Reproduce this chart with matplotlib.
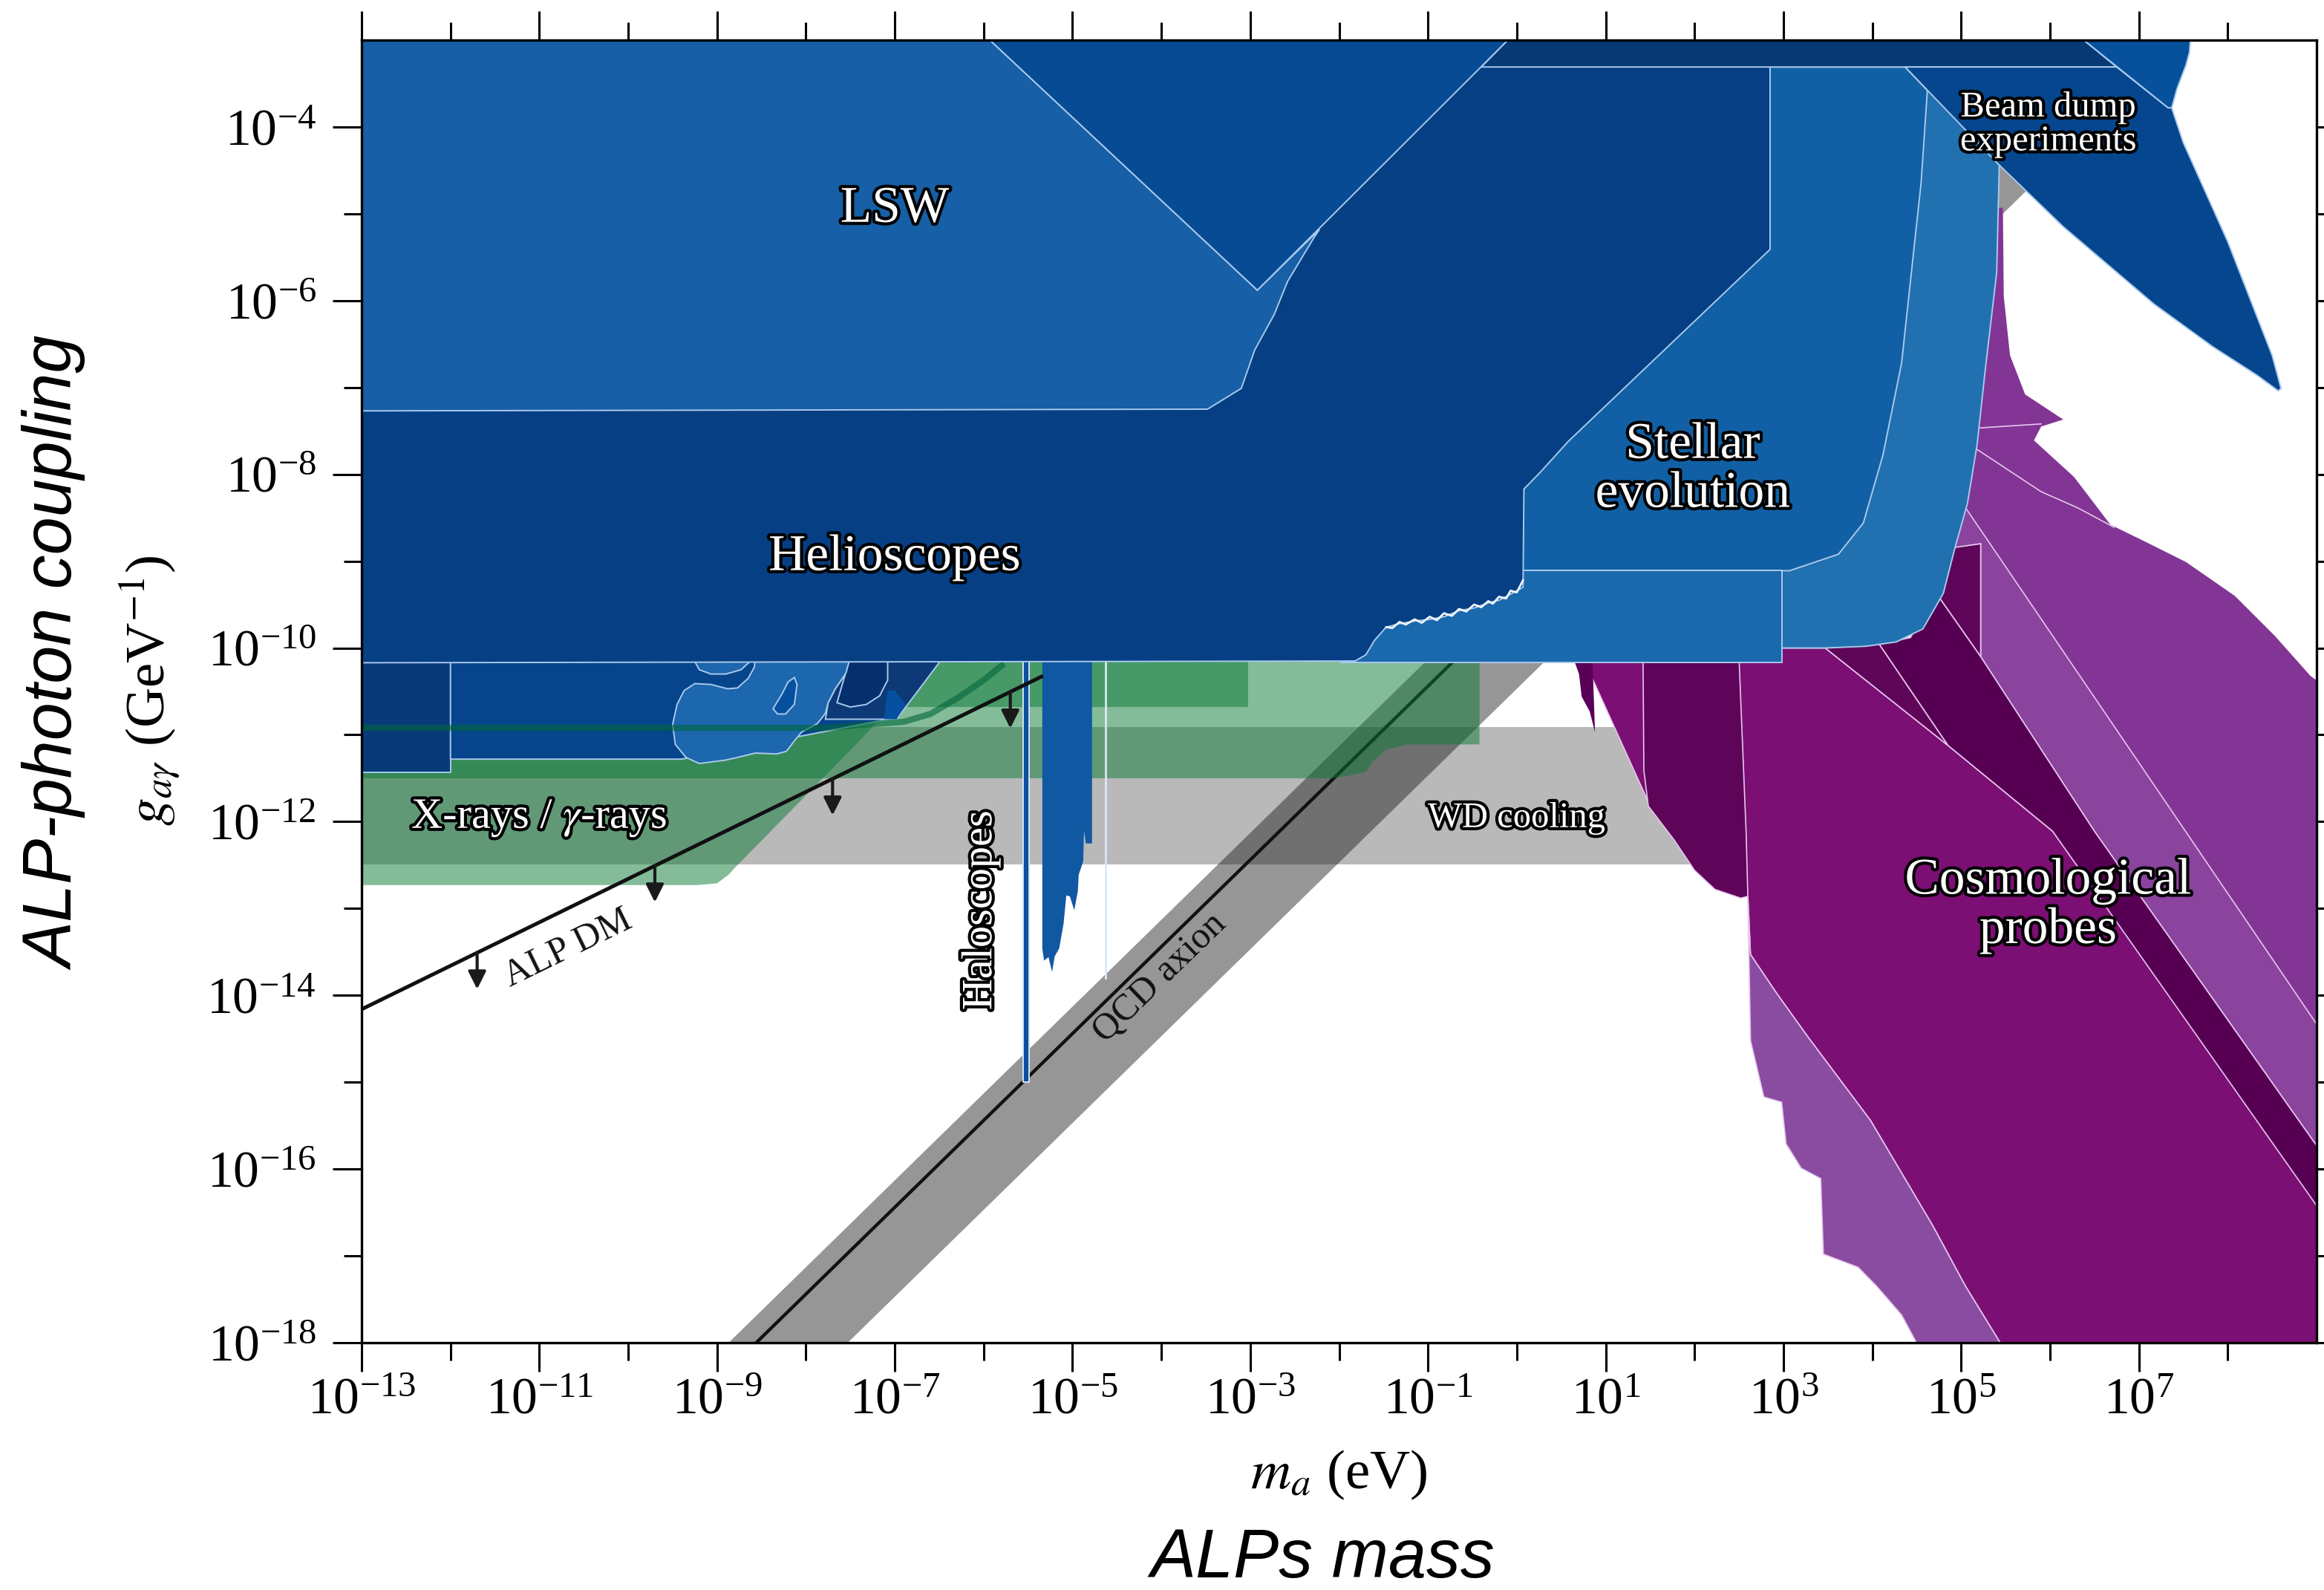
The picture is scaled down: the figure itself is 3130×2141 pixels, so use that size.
import numpy as np
import matplotlib
matplotlib.use("Agg")
import matplotlib.pyplot as plt
import matplotlib.patheffects as pe
from matplotlib.ticker import NullFormatter

plt.rcParams['font.family'] = 'serif'
plt.rcParams['font.serif'] = ['Liberation Serif', 'DejaVu Serif']
plt.rcParams['mathtext.fontset'] = 'stix'

# region outlines: log10(m_a / eV) and log10(g_ag / GeV^-1)

# QCD axion band + line
qcd_band_m = [-9.2, 7.5, 7.5, -7.6]
qcd_band_g = [-18.33, -1.63, -2.97, -18.07]
qcd_line_m = [-8.7, 7.0]
qcd_line_g = [-18.14, -2.44]

# ALP dark matter line
alpdm_m = [-13.0, -5.35]
alpdm_g = [-14.16, -10.33]
alpdm_arrow_m = [-11.7, -9.7, -7.7, -5.7]

# white dwarf cooling
wd_m = [-13.1, 2.0, 2.0, -13.1]
wd_g = [-10.91, -10.91, -12.49, -12.49]

# X-rays / gamma-rays (translucent green)
xray1_m = [-13.1, -13.1, -9.23, -9.0, -8.87, -8.78, -8.53, -7.35, -6.5]
xray1_g = [-10.05, -12.73, -12.73, -12.71, -12.61, -12.51, -12.25, -11.02, -10.05]
xray2_m = [-13.1, -0.42, -0.42, -1.23, -1.47, -1.62, -1.70, -2.05, -13.1]
xray2_g = [-10.05, -10.05, -11.11, -11.11, -11.17, -11.31, -11.43, -11.5, -11.5]
xray3_m = [-7.7, -3.02, -3.02, -7.7]
xray3_g = [-10.05, -10.05, -10.68, -10.68]
xray_edge_m = [-13.1, -7.78, -7.32, -6.9, -6.6, -6.3, -6.0, -5.77]
xray_edge_g = [-10.92, -10.92, -10.88, -10.85, -10.76, -10.58, -10.37, -10.18]

# small astrophysical blue regions below the helioscope bound
astro1_m = [-13.1, -12.0, -12.0, -13.1]
astro1_g = [-10.05, -10.05, -11.43, -11.43]
astro2_m = [-12.0, -7.07, -7.07, -9.4, -12.0]
astro2_g = [-10.05, -10.05, -10.82, -11.28, -11.28]
blob_m = [-9.50, -9.45, -9.37, -9.25, -9.07, -8.88, -8.77, -8.65, -8.58, -8.57, -7.50, -7.55, -7.67,
          -7.75, -7.78, -7.87, -8.05, -8.13, -8.22, -8.33, -8.57, -8.77, -8.90, -9.20, -9.35, -9.47]
blob_g = [-10.88, -10.65, -10.49, -10.41, -10.42, -10.47, -10.46, -10.35, -10.22, -10.1, -10.1, -10.29, -10.47,
          -10.63, -10.75, -10.87, -10.97, -11.07, -11.19, -11.22, -11.21, -11.26, -11.29, -11.33, -11.26, -11.11]
lobe_m = [-9.28, -9.2, -9.07, -8.9, -8.73, -8.57]
lobe_g = [-10.1, -10.25, -10.30, -10.30, -10.25, -10.1]
hole_m = [-8.32, -8.37, -8.27, -8.2, -8.13, -8.1, -8.13, -8.23]
hole_g = [-10.76, -10.70, -10.53, -10.39, -10.34, -10.42, -10.65, -10.76]
astro3_m = [-7.5, -6.45, -6.98, -7.78, -7.75, -7.67, -7.55]
astro3_g = [-10.1, -10.1, -10.82, -10.82, -10.63, -10.47, -10.29]
astro3u_m = [-7.5, -7.08, -7.08, -7.17, -7.32, -7.5, -7.65]
astro3u_g = [-10.1, -10.1, -10.37, -10.55, -10.65, -10.68, -10.63]
astro3s_m = [-7.12, -7.08, -7.0, -6.88, -6.98]
astro3s_g = [-10.82, -10.49, -10.49, -10.65, -10.82]

# haloscopes
halo_m = [-5.34, -4.78, -4.78, -4.85, -4.87, -4.88, -4.93, -4.94, -4.98, -5.03, -5.07, -5.10, -5.15,
          -5.20, -5.23, -5.27, -5.32, -5.34]
halo_g = [-10.1, -10.1, -12.25, -12.25, -12.10, -12.46, -12.61, -12.80, -13.02, -12.86, -12.85, -13.17, -13.46,
          -13.55, -13.73, -13.56, -13.60, -13.46]
admx_m = [-5.52, -5.52]
admx_g = [-10.1, -14.96]
halo_thin_m = [-4.63, -4.63]
halo_thin_g = [-10.1, -13.8]

# helioscopes, LSW
helio_m = [-13.1, 2.85, 2.85, 0.58, 0.27, 0.08, 0.07, -0.07, -0.20, -0.32, -0.48, -0.65, -0.82,
           -0.98, -1.15, -1.32, -1.47, -1.60, -1.70, -1.82, -13.1]
helio_g = [-2.9, -2.9, -5.41, -7.62, -7.97, -8.17, -9.30, -9.38, -9.45, -9.48, -9.54, -9.57, -9.64,
           -9.67, -9.69, -9.72, -9.76, -9.91, -10.08, -10.15, -10.17]
helio_noise_m = [0.07, 0.0, -0.07, -0.12, -0.20, -0.27, -0.32, -0.40, -0.48, -0.57, -0.65, -0.73, -0.82,
                 -0.90, -0.98, -1.07, -1.15, -1.25, -1.32, -1.40, -1.47]
helio_noise_g = [-9.22, -9.36, -9.34, -9.43, -9.41, -9.49, -9.46, -9.53, -9.50, -9.58, -9.55, -9.63, -9.60,
                 -9.68, -9.64, -9.71, -9.67, -9.73, -9.70, -9.77, -9.76]
lsw_m = [-13.1, -5.93, -2.92, -2.22, -2.28, -2.58, -2.73, -2.95, -3.10, -3.48, -13.1]
lsw_g = [-3.0, -3.0, -5.88, -5.18, -5.27, -5.78, -6.16, -6.57, -7.01, -7.25, -7.27]
lsw2_m = [-5.93, -0.10, -2.92]
lsw2_g = [-3.0, -3.0, -5.88]
strip_m = [-0.40, -0.10, 6.38, 6.75]
strip_g = [-3.31, -3.0, -3.0, -3.31]

# stellar evolution
stellar1_m = [2.1, 4.37, 4.62, 4.55, 4.33, 4.12, 3.90, 3.62, 3.07, -0.07, -0.07, 2.1]
stellar1_g = [-3.31, -3.31, -3.58, -4.64, -6.72, -7.78, -8.56, -8.92, -9.11, -9.11, -8.17, -5.95]
stellar2_m = [4.10, 4.37, 5.43, 5.40, 5.27, 5.18, 5.07, 4.93, 4.80, 4.57, 4.27, 3.93, 3.47, 2.98, 2.98, 3.60]
stellar2_g = [-3.31, -3.31, -4.42, -5.68, -6.81, -7.66, -8.34, -8.85, -9.37, -9.78, -9.93, -9.98, -10.0,
              -10.0, -9.11, -7.66]
hb_m = [-1.98, 2.98, 2.98, -1.98]
hb_g = [-9.11, -9.11, -10.17, -10.17]

# beam dump
beam_m = [4.37, 6.75, 7.33, 7.37, 7.50, 8.00, 8.50, 8.60, 8.57, 8.33, 7.83, 7.17, 6.15, 5.42]
beam_g = [-3.31, -3.31, -3.78, -3.78, -4.18, -5.32, -6.63, -7.01, -7.04, -6.86, -6.53, -6.04, -5.15, -4.43]
beam2_m = [6.38, 7.58, 7.57, 7.53, 7.43, 7.37, 7.33]
beam2_g = [-3.0, -3.0, -3.14, -3.29, -3.56, -3.78, -3.78]

# cosmological probes
cosmo1_m = [5.47, 5.48, 5.55, 5.72, 6.15, 5.90, 5.82, 6.27, 6.68, 7.08, 7.53, 8.08, 8.53, 8.93, 9.1, 9.1, 5.0, 4.93, 5.18]
cosmo1_g = [-4.93, -5.95, -6.63, -7.08, -7.37, -7.45, -7.61, -8.03, -8.58, -8.78, -9.01, -9.40, -9.86, -10.32,
            -10.45, -15.2, -8.6, -7.66, -4.93]
cosmo2_m = [4.90, 5.0, 9.0, 9.0, 6.5, 5.22, 5.22, 4.90]
cosmo2_g = [-8.17, -8.31, -14.33, -15.73, -12.11, -10.10, -8.80, -8.85]
cosmo3_m = [4.6, 5.22, 5.22, 4.72, 4.6]
cosmo3_g = [-8.89, -8.80, -10.10, -9.37, -9.30]
cosmo4_m = [4.08, 4.43, 4.72, 5.22, 6.50, 9.0, 9.0, 6.03, 4.85]
cosmo4_g = [-9.96, -9.88, -9.37, -10.10, -12.11, -15.73, -16.42, -12.11, -11.12]
cosmo5_m = [3.47, 4.08, 4.85]
cosmo5_g = [-10.0, -9.96, -11.12]
cosmo6_m = [0.77, 1.47, 2.60, 2.63, 2.92, 3.27, 3.98, 4.68, 5.05, 5.50, 9.1, 9.1, 6.03, 4.85, 3.47, 0.85]
cosmo6_g = [-10.17, -11.75, -12.86, -13.53, -13.97, -14.47, -15.44, -16.65, -17.35, -18.1, -18.1, -16.42,
            -12.11, -11.12, -10.0, -10.0]
cosmo7_m = [1.42, 2.50, 2.58, 2.60, 2.52, 2.23, 2.0, 1.77, 1.48, 1.43]
cosmo7_g = [-10.1, -10.1, -12.11, -12.86, -12.88, -12.78, -12.56, -12.21, -11.82, -11.41]
cosmo8_m = [2.60, 2.63, 2.78, 2.98, 3.03, 3.20, 3.42, 3.45, 3.84, 4.05, 4.33, 4.55, 5.50, 5.05, 4.68,
            3.98, 3.27, 2.92, 2.63]
cosmo8_g = [-12.86, -14.52, -15.17, -15.23, -15.71, -15.99, -16.11, -16.98, -17.13, -17.35, -17.68, -18.1,
            -18.1, -17.35, -16.65, -15.44, -14.47, -13.97, -13.53]
cosmo9_m = [0.63, 0.85, 0.88, 0.82, 0.73, 0.70]
cosmo9_g = [-10.1, -10.1, -10.97, -10.73, -10.56, -10.30]
cosmo_line1_m = [5.10, 5.90, 6.32, 6.72]
cosmo_line1_g = [-7.66, -8.20, -8.39, -8.61]
cosmo_line2_m = [5.15, 5.90]
cosmo_line2_g = [-7.47, -7.42]

x_major = list(range(-13, 8, 2))
x_minor = list(range(-12, 9, 2))
y_major = list(range(-18, -3, 2))
y_minor = list(range(-17, -4, 2))


def p10(v):
    return 10.0 ** np.asarray(v, dtype=float)


fig = plt.figure(figsize=(15.65, 10.705), dpi=200)
ax = fig.add_axes([0.1556, 0.1555, 0.8412, 0.8193])
ax.set_xscale('log')
ax.set_yscale('log')
ax.set_xlim(1e-13, 1e9)
ax.set_ylim(1e-18, 1e-3)

blue_edge = dict(edgecolor='#a9c9ec', linewidth=0.7)
purple_edge = dict(edgecolor='#e6c6ee', linewidth=0.6)


def region(m, g, color, z, **kw):
    ax.fill(p10(m), p10(g), facecolor=color, zorder=z, **kw)


# background bands
region(wd_m, wd_g, '#b9b9b9', 1, linewidth=0)
region(qcd_band_m, qcd_band_g, '#1a1a1a', 2, alpha=0.46, linewidth=0)
ax.plot(p10(qcd_line_m), p10(qcd_line_g), color='#111111', lw=1.6, zorder=2.5)

# cosmology (purple)
region(cosmo1_m, cosmo1_g, '#833595', 3, linewidth=0)
region(cosmo2_m, cosmo2_g, '#8a449d', 3, **purple_edge)
region(cosmo6_m, cosmo6_g, '#7c0f73', 3, **purple_edge)
region(cosmo8_m, cosmo8_g, '#8a4ca0', 3, **purple_edge)
region(cosmo3_m, cosmo3_g, '#5e0559', 3.1, **purple_edge)
region(cosmo4_m, cosmo4_g, '#570053', 3.1, **purple_edge)
region(cosmo5_m, cosmo5_g, '#600659', 3.1, **purple_edge)
region(cosmo7_m, cosmo7_g, '#5e0559', 3.1, **purple_edge)
region(cosmo9_m, cosmo9_g, '#5a0058', 3.1, linewidth=0)
for lm, lg in [(cosmo_line1_m, cosmo_line1_g), (cosmo_line2_m, cosmo_line2_g)]:
    ax.plot(p10(lm), p10(lg), color='#e6c6ee', lw=0.6, zorder=3.2)

# X-ray / gamma-ray bounds (green, translucent)
for lm, lg in [(xray1_m, xray1_g), (xray2_m, xray2_g), (xray3_m, xray3_g)]:
    region(lm, lg, '#0b7a36', 4, alpha=0.5, linewidth=0)

# small blue regions
region(astro1_m, astro1_g, '#083a7a', 5, **blue_edge)
region(astro2_m, astro2_g, '#06458c', 5, **blue_edge)
region(astro3_m, astro3_g, '#0d3a76', 5, **blue_edge)
region(astro3u_m, astro3u_g, '#062f6e', 5.1, **blue_edge)
region(astro3s_m, astro3s_g, '#0550a0', 5.1, linewidth=0)
region(blob_m, blob_g, '#1c67ad', 5.2, **blue_edge)
region(lobe_m, lobe_g, '#1c67ad', 5.2, **blue_edge)
region(hole_m, hole_g, '#0650a0', 5.3, **blue_edge)

ax.plot(p10(xray_edge_m), p10(xray_edge_g), color='#00663a', alpha=0.6, lw=3.0,
        solid_capstyle='butt', zorder=6)

# haloscopes
region(halo_m, halo_g, '#1158a3', 6, linewidth=0)
ax.plot(p10(admx_m), p10(admx_g), color='#0d4f9e', lw=2.2, zorder=6.1,
        path_effects=[pe.Stroke(linewidth=3.6, foreground='#d3e2f2'), pe.Normal()])
ax.plot(p10(halo_thin_m), p10(halo_thin_g), color='#dce8f5', lw=1.0, zorder=6.1)

# large blue regions
region(stellar2_m, stellar2_g, '#2170b0', 7, **blue_edge)
region(stellar1_m, stellar1_g, '#1160a5', 7.1, **blue_edge)
region(hb_m, hb_g, '#1b69ad', 7.2, **blue_edge)
region(helio_m, helio_g, '#063f84', 7.3, **blue_edge)
ax.plot(p10(helio_noise_m), p10(helio_noise_g), color='#f2f6fb', lw=1.0, zorder=7.35)
region(lsw_m, lsw_g, '#175fa6', 7.4, **blue_edge)
region(lsw2_m, lsw2_g, '#074b94', 7.5, **blue_edge)
region(strip_m, strip_g, '#073a75', 7.6, **blue_edge)
region(beam_m, beam_g, '#06468e', 7.6, **blue_edge)
region(beam2_m, beam2_g, '#07509c', 7.7, **blue_edge)

# ALP DM line with arrows
ax.plot(p10(alpdm_m), p10(alpdm_g), color='#111111', lw=1.8, zorder=8)
for lm in alpdm_arrow_m:
    lg = np.interp(lm, alpdm_m, alpdm_g)
    ax.annotate('', xy=(10 ** lm, 10 ** (lg - 0.42)), xytext=(10 ** lm, 10 ** lg),
                arrowprops=dict(arrowstyle='-|>', color='#1a1a1a', lw=1.5, mutation_scale=18,
                                shrinkA=0, shrinkB=0), zorder=8)

# labels
outline = [pe.Stroke(linewidth=3, foreground='black'), pe.Normal()]


def label(lm, lg, s, size, rot=0, color='white', effects=outline):
    ax.text(10 ** lm, 10 ** lg, s, fontsize=size, color=color, ha='center', va='center',
            rotation=rot, rotation_mode='anchor', linespacing=1.05, path_effects=effects, zorder=20)


label(-7.0, -4.95, 'LSW', 25)
label(-7.0, -8.96, 'Helioscopes', 25)
label(1.98, -7.95, 'Stellar\nevolution', 25)
label(5.98, -3.97, 'Beam dump\nexperiments', 17.5)
label(-11.0, -11.96, r'X-rays / $\gamma$-rays', 21)
label(0.0, -11.96, 'WD cooling', 17.5)
label(5.98, -12.97, 'Cosmological\nprobes', 25)
label(-6.03, -13.02, 'Haloscopes', 21, rot=90)
label(-10.68, -13.46, 'ALP DM', 18, rot=26, color='#111111', effects=None)
label(-4.02, -13.8, 'QCD axion', 18, rot=44, color='#111111', effects=None)

# axes styling
ax.set_xticks(p10(x_major))
ax.set_xticks(p10(x_minor), minor=True)
ax.set_yticks(p10(y_major))
ax.set_yticks(p10(y_minor), minor=True)
ax.xaxis.set_minor_formatter(NullFormatter())
ax.yaxis.set_minor_formatter(NullFormatter())
ax.tick_params(which='both', direction='out', top=True, right=True, width=1.1, colors='black')
ax.tick_params(which='major', length=14)
ax.tick_params(which='minor', length=8.5)
ax.tick_params(axis='x', which='major', labelsize=25, pad=3)
ax.tick_params(axis='y', which='major', labelsize=25, pad=8)
for s in ax.spines.values():
    s.set_linewidth(1.2)
    s.set_zorder(30)

fig.text(0.576, 0.0724, r'$m_a$ (eV)', ha='center', va='center', fontsize=27)
fig.text(0.0645, 0.5656, r'$g_{a\gamma}$ (GeV$^{-1}$)', rotation=90, ha='center', va='center', fontsize=27)
fig.text(0.569, 0.019, 'ALPs mass', ha='center', va='center', fontsize=33,
         family='Liberation Sans', style='italic')
fig.text(0.0243, 0.589, 'ALP-photon coupling', rotation=90, ha='center', va='center', fontsize=33,
         family='Liberation Sans', style='italic')

fig.savefig('out.png', dpi=200)
